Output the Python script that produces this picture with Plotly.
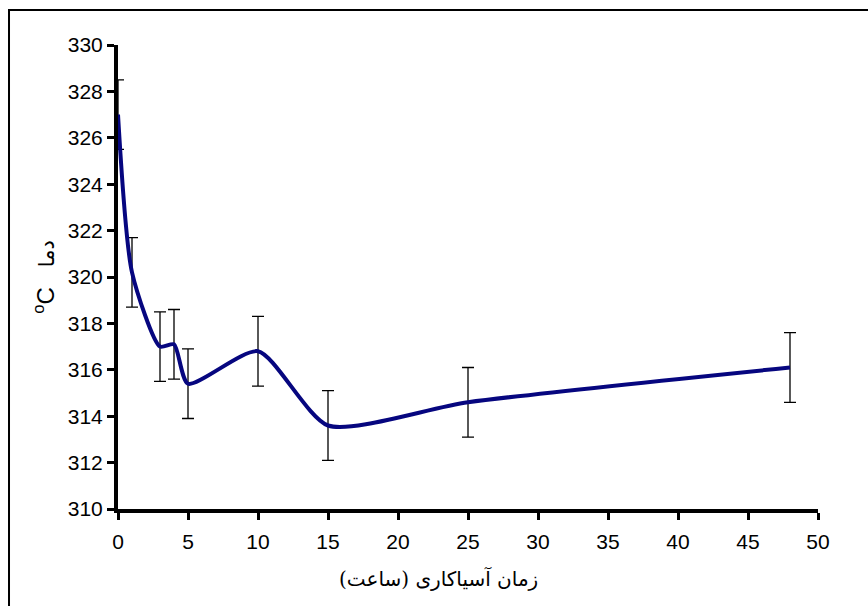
import plotly.graph_objects as go

# Data
hours = [0, 1, 3, 4, 5, 10, 15, 25, 48]
temperature = [327.0, 320.2, 317.0, 317.1, 315.4, 316.8, 313.6, 314.6, 316.1]
error = [1.5, 1.5, 1.5, 1.5, 1.5, 1.5, 1.5, 1.5, 1.5]

x_ticks = [0, 5, 10, 15, 20, 25, 30, 35, 40, 45, 50]
y_ticks = [310, 312, 314, 316, 318, 320, 322, 324, 326, 328, 330]

x_title = "\u200fزمان آسیاکاری (ساعت)\u200f"
y_title = "<sup>o</sup>C   <span style='font-size:21px'>دما</span>"

fig = go.Figure()
fig.add_trace(go.Scatter(
    x=hours, y=temperature,
    mode="lines",
    line=dict(color="#06067f", width=4, shape="spline", smoothing=0.65),
    error_y=dict(type="data", array=error, visible=True,
                 color="black", thickness=1.3, width=6),
    showlegend=False,
))

axis_font = dict(family="Liberation Sans, Arial", size=21, color="black")

fig.update_layout(
    width=868, height=606,
    margin=dict(l=118, r=50, t=45, b=97),
    paper_bgcolor="white", plot_bgcolor="white",
    xaxis=dict(
        range=[0, 50], tickvals=x_ticks, ticktext=[str(v) for v in x_ticks],
        showgrid=False, zeroline=False,
        showline=True, linecolor="black", linewidth=4,
        ticks="outside", ticklen=7, tickwidth=3, tickcolor="black",
        tickfont=axis_font, ticklabelstandoff=4,
    ),
    yaxis=dict(
        range=[310, 330], tickvals=y_ticks, ticktext=[str(v) for v in y_ticks],
        showgrid=False, zeroline=False,
        showline=True, linecolor="black", linewidth=4,
        ticks="outside", ticklen=7, tickwidth=3, tickcolor="black",
        tickfont=axis_font,
        title=dict(text=y_title,
                   font=dict(family="Liberation Sans, DejaVu Sans", size=24, color="black"),
                   standoff=7),
    ),
    annotations=[dict(text=x_title, xref="paper", yref="paper",
                      x=(438 - 118) / 700, y=(509 - 578) / 464,
                      xanchor="center", yanchor="middle", showarrow=False,
                      font=dict(family="DejaVu Serif, DejaVu Sans", size=20, color="black"))],
    shapes=[dict(type="rect", xref="paper", yref="paper",
                 x0=-0.1557, x1=1.2, y0=-0.4, y1=1.0754,
                 line=dict(color="black", width=2), layer="below")],
)

fig.write_html("out.html")
